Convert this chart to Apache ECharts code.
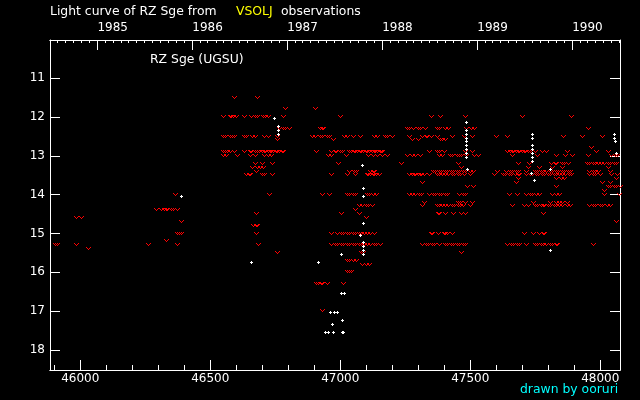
<!DOCTYPE html>
<html><head><meta charset="utf-8">
<style>html,body{margin:0;padding:0;background:#000}#c{width:640px;height:400px}</style>
<script src="https://cdn.jsdelivr.net/npm/echarts@6/dist/echarts.min.js"></script>
</head><body><div id="c"></div>
<script>
const magTicks=[11,12,13,14,15,16,17,18];
const jdTicks=[46000,46500,47000,47500,48000];
const jdMinor=[45900,46100,46200,46300,46400,46600,46700,46800,46900,47100,47200,47300,47400,47600,47700,47800,47900,48000];
const yearLabels=['1985','1986','1987','1988','1989','1990'];
const yearJd=[46066,46431,46796,47161,47527,47892];
const monthJd=[45913,45944,45974,46005,46035,46097,46125,46156,46186,46217,46247,46278,46309,46339,46370,46400,46462,46490,46521,46551,46582,46612,46643,46674,46704,46735,46765,46827,46855,46886,46916,46947,46977,47008,47039,47069,47100,47130,47192,47221,47252,47282,47313,47343,47374,47405,47435,47466,47496,47558,47586,47617,47647,47678,47708,47739,47770,47800,47831,47861,47923,47951,47982,48012,48043,48073];

const m115=[46592,46682];
const m118=[46790,46905];
const m120=[46549,46576,46583,46591,46599,46633,46660,46672,46683,46703,46714,46722,46783,46999,47349,47387,47483,47699,47888];
const m123=[46768,46780,46791,46803,46922,46930,46937,47260,47268,47283,47299,47310,47326,47372,47383,47406,47418,47487,47503,47518,47956];
const m125=[46549,46560,46576,46587,46595,46633,46641,46664,46672,46710,46722,46760,46895,46906,46922,46933,46949,46960,47018,47029,47049,47076,47133,47145,47172,47183,47199,47268,47318,47330,47337,47349,47372,47430,47476,47510,47599,47645,47860,47933,48010];
const m126=[46757,46972,47279,47299,47387,47395,47403];
const m128=[47968];
const m129=[46552,46560,46568,46576,46595,46633,46653,46660,46672,46683,46691,46699,46707,46714,46722,46730,46737,46745,46753,46760,46768,46776,46783,46910,46968,46980,46987,46999,47010,47037,47045,47053,47060,47068,47076,47083,47091,47099,47106,47114,47122,47130,47137,47145,47153,47160,47164,47345,47372,47380,47399,47480,47507,47645,47653,47661,47668,47676,47684,47691,47699,47707,47714,47722,47730,47749,47776,47795,47872,47987,48030];
const m130=[46552,46564,46603,46653,46672,46710,46722,46737,46953,46968,47022,47110,47126,47145,47164,47183,47260,47276,47291,47307,47380,47395,47422,47433,47449,47460,47468,47487,47518,47530,47664,47757,47833,47868,47895,47956,48045,48057,48068];
const m132=[46672,46699,46741,46995,47237,47456,47687,47726,47814,47826,47833,47853,47864,47876,47949,47960,47972,47983,47995,48006,48018,48030,48041,48053,48064];
const m133=[46664,46683,46695,46703,47468,47722,47768,47818,47856,48030];
const m134=[46679,47037,47053,47064,47118,47126,47133,47357,47368,47380,47391,47403,47414,47426,47437,47449,47460,47472,47480,47499,47514,47603,47641,47653,47664,47676,47687,47718,47749,47760,47772,47783,47795,47807,47818,47830,47841,47853,47864,47876,47884,47960,47972,47983,47995,48038];
const m135=[46641,46649,46656,46699,46710,46741,46968,47026,47060,47103,47110,47118,47126,47133,47141,47149,47268,47276,47284,47291,47299,47307,47314,47322,47345,47372,47383,47395,47406,47418,47430,47441,47453,47464,47476,47499,47595,47626,47637,47649,47660,47672,47684,47691,47718,47730,47741,47753,47764,47776,47787,47799,47810,47822,47833,47845,47856,47868,47880,47891,47960,47972,47983,47999,48045,48068];
const m136=[47684,47833,47849,47864,48064];
const m137=[47318,47676,48010,48041];
const m138=[47491,47514,47833,48030,48041,48053,48064,48076];
const m139=[48018];
const m140=[46365,46726,46930,46957,47026,47037,47049,47057,47103,47114,47126,47141,47268,47279,47291,47303,47314,47345,47357,47368,47380,47391,47403,47414,47460,47472,47480,47649,47680,47718,47730,47741,47753,47768,47818,47830,47845,48018,48072];
const m142=[47322,47453,47464,47480,47507,47745,47810,47830,47845,47856,47872];
const m143=[47072,47087,47099,47110,47122,47318,47372,47383,47395,47406,47418,47430,47441,47453,47464,47472,47499,47663,47710,47722,47749,47760,47772,47780,47787,47799,47810,47822,47833,47845,47856,47872,47884,47960,47972,47983,47999,48010,48026,48041];
const m144=[46294,46314,46322,46330,46337,46351,46360,46375,47060];
const m145=[46679,47003,47072,47376,47383,47403,47437,47468,47480,47780];
const m146=[45987,46005,47099];
const m147=[46388,48064];
const m148=[46668,46676,46683];
const m150=[46375,46383,46390,46676,46968,46991,47003,47014,47026,47037,47049,47060,47072,47083,47095,47106,47118,47130,47349,47353,47376,47399,47406,47414,47433,47710,47745,47768,47780,47787];
const m152=[46331];
const m153=[45903,45914,45987,46262,46373,46684,46968,46980,46991,47003,47014,47026,47037,47049,47060,47072,47083,47095,47106,47118,47130,47141,47153,47318,47330,47341,47353,47364,47383,47403,47414,47426,47437,47449,47460,47472,47480,47645,47657,47668,47680,47691,47718,47749,47760,47772,47783,47795,47807,47818,47830,47837,47972];
const m154=[46031];
const m155=[46760,47083,47091,47468];
const m157=[47026,47037,47049,47064];
const m158=[47087,47099,47114];
const m160=[47026,47037,47045];
const m163=[46910,46918,46926,46933,46949,47014];
const m170=[46930];

const redRows=[[11.5,m115],[11.8,m118],[12,m120],[12.3,m123],[12.5,m125],[12.6,m126],[12.8,m128],[12.9,m129],[13,m130],[13.2,m132],[13.3,m133],[13.4,m134],[13.5,m135],[13.6,m136],[13.7,m137],[13.8,m138],[13.9,m139],[14,m140],[14.2,m142],[14.3,m143],[14.4,m144],[14.5,m145],[14.6,m146],[14.7,m147],[14.8,m148],[15,m150],[15.2,m152],[15.3,m153],[15.4,m154],[15.5,m155],[15.7,m157],[15.8,m158],[16,m160],[16.3,m163],[17,m170]];

const whiteJd=[46388,46746,46761,46761,46761,47085,47088,47088,47088,47077,47088,47088,47088,47088,47004,46658,46915,47004,47015,46962,46977,46988,47008,46969,46942,46954,46973,47008,47012,47485,47485,47485,47485,47485,47485,47485,47485,47485,47488,47738,47738,47738,47738,47738,47738,47738,47736,47746,47808,47808,48054,48054,48058,48062];
const whiteMag=[14,12,12.2,12.3,12.4,13.2,13.8,14,14.7,15,15.2,15.3,15.4,15.5,15.5,15.7,15.7,16.5,16.5,17,17,17,17.2,17.3,17.5,17.5,17.5,17.5,17.5,12.1,12.3,12.4,12.5,12.6,12.7,12.8,12.9,13,13.3,12.4,12.5,12.7,12.8,12.9,13,13.1,13.4,13.6,13.3,15.4,12.4,12.5,12.6,12.9];

const redData=[];
redRows.forEach(r=>r[1].forEach(j=>redData.push([j,r[0]])));
const whiteData=whiteJd.map((j,i)=>[j,whiteMag[i]]);

const font='"DejaVu Sans"';
const xMin=45883.5,xMax=48075.8,yMin=10.0116,yMax=18.5168;
const line={show:true,lineStyle:{color:'#fff',width:1}};
const baseX={type:'value',min:xMin,max:xMax,splitLine:{show:false},axisLine:{...line,onZero:false}};
const baseY={type:'value',min:yMin,max:yMax,inverse:true,splitLine:{show:false},axisLine:{...line,onZero:false}};
const tick=(vals,len)=>({show:true,inside:true,length:len,lineStyle:{color:'#fff',width:1},customValues:vals});
const txt=(text,left,top,color,size)=>({text,left,top,textStyle:{color:color||'#fff',fontFamily:font,fontSize:size||12.4,fontWeight:'normal'},padding:0});

// pixel-aligned glyphs, positioned through the axes' scale
const vMark=(params,api)=>{
  const p=api.coord([api.value(0),api.value(1)]);
  const x=Math.round(p[0]-2.5),y=Math.round(p[1]-0.95)-1;
  const o=[[0,0],[1,0],[1,1],[2,1],[2,2],[3,2],[3,1],[4,1],[4,0],[5,0],[5,1],[4,1],[4,2],[3,2],[3,3],[2,3],[2,2],[1,2],[1,1],[0,1]];
  return {type:'polygon',shape:{points:o.map(q=>[x+q[0],y+q[1]])},style:{fill:'#ff0000'}};
};
const plusMark=(params,api)=>{
  const p=api.coord([api.value(0),api.value(1)]);
  const x=Math.round(p[0]-1.5),y=Math.round(p[1]+1.05)-1;
  const o=[[1,0],[2,0],[2,1],[3,1],[3,2],[2,2],[2,3],[1,3],[1,2],[0,2],[0,1],[1,1]];
  return {type:'polygon',shape:{points:o.map(q=>[x+q[0],y+q[1]])},style:{fill:'#ffffff'}};
};

const chart=echarts.init(document.getElementById('c'),null,{renderer:'canvas'});
chart.setOption({
 backgroundColor:'#000',animation:false,
 title:[txt('Light curve of RZ Sge from',50,6),txt('VSOLJ',236,6,'#ffff00'),txt('observations',281,6),txt('RZ Sge (UGSU)',150,54),txt('drawn by ooruri',520,384,'#00ffff')],
 grid:{left:50,top:40,width:570,height:330,containLabel:false},
 xAxis:[
  {...baseX,position:'bottom',axisTick:tick(jdTicks,10),axisLabel:{show:true,color:'#fff',fontFamily:font,fontSize:12,margin:3,customValues:jdTicks,formatter:v=>String(v),hideOverlap:false,showMinLabel:true,showMaxLabel:true}},
  {...baseX,position:'bottom',axisTick:tick(jdMinor,5),axisLabel:{show:false}},
  {...baseX,position:'top',axisTick:tick(yearJd,10),axisLabel:{show:true,color:'#fff',fontFamily:font,fontSize:12,margin:6,align:'left',customValues:yearJd,formatter:v=>yearLabels[yearJd.indexOf(v)]}},
  {...baseX,position:'top',axisTick:tick(monthJd,3),axisLabel:{show:false}}
 ],
 yAxis:[
  {...baseY,position:'left',axisTick:tick(magTicks,10),axisLabel:{show:true,color:'#fff',fontFamily:font,fontSize:12,margin:5,customValues:magTicks,formatter:v=>String(v)}},
  {...baseY,position:'right',axisTick:tick(magTicks,10),axisLabel:{show:false}}
 ],
 series:[
  {type:'custom',name:'fainter-than',data:redData,xAxisIndex:0,yAxisIndex:0,clip:false,z:3,silent:true,renderItem:vMark,encode:{x:0,y:1}},
  {type:'custom',name:'observed',data:whiteData,xAxisIndex:0,yAxisIndex:0,clip:false,z:4,silent:true,renderItem:plusMark,encode:{x:0,y:1}}
 ]
});
</script></body></html>
